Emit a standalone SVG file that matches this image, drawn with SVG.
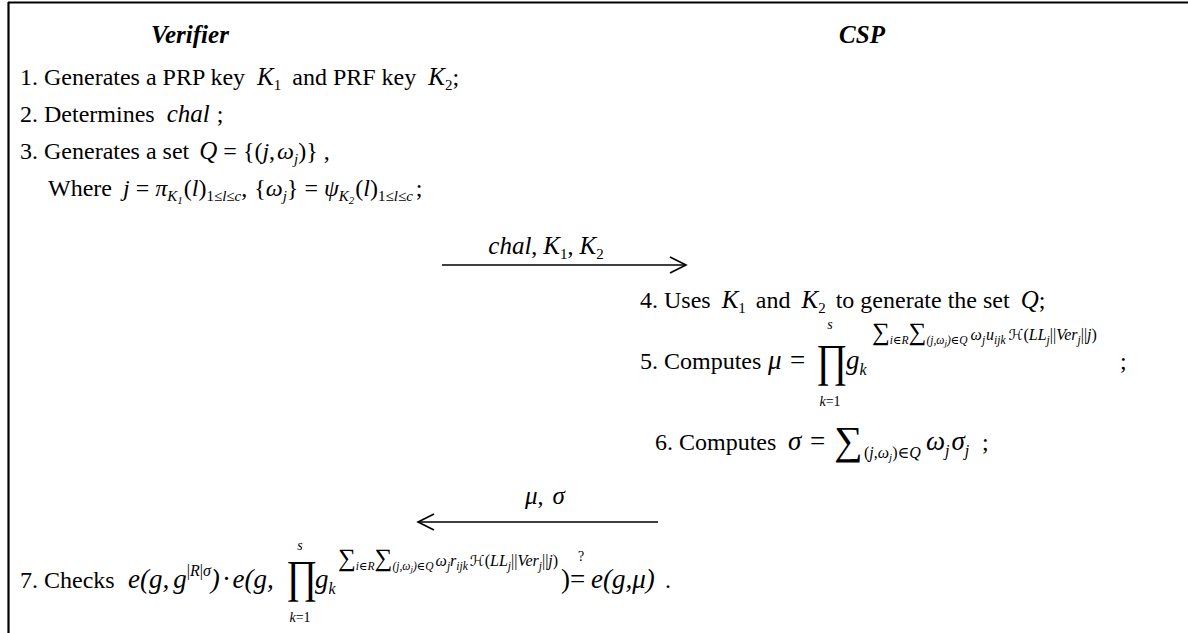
<svg xmlns="http://www.w3.org/2000/svg" width="1188" height="633" viewBox="0 0 1188 633">
<style>
text{font-family:"Liberation Serif","Times New Roman","DejaVu Serif",serif;font-size:24px;fill:#000}
.i{font-style:italic}
.hd{font-weight:bold;font-style:italic;font-size:25px}
.sb{font-size:15px}
.m{font-size:27px;font-style:italic}
.mu{font-size:27px}
.sup{font-size:16px}
.ms{font-size:16px}
.mss{font-size:11px;font-style:italic}
.e1{font-size:16px;font-style:italic}
.eu{font-size:16px;font-style:normal}
.es{font-size:11.5px;font-style:italic}
.ess{font-size:9px;font-style:italic}
.esig{font-size:25px;font-style:normal}
.big{font-size:46px}
.lsig{font-size:40px}
.lim{font-size:14px}
.cal{font-family:"DejaVu Serif","DejaVu Sans",serif;font-size:15px;font-style:italic}
.conn{stroke:#000;stroke-width:1.6;fill:none}
</style>
<defs>
<marker id="ah" markerUnits="userSpaceOnUse" markerWidth="20" markerHeight="20" refX="17" refY="9" orient="auto">
<path d="M1,1 L17,9 L1,17" fill="none" stroke="#000" stroke-width="1.6"/>
</marker>
</defs>
<rect width="1188" height="633" fill="#fff"/>
<g id="frame"><path d="M8,2.5 H1188 M8.5,2 V633" stroke="#000" stroke-width="2.2" fill="none"/></g>

<g id="verifier">
<text class="hd" x="190" y="43" text-anchor="middle">Verifier</text>
<text x="20" y="85">1. Generates a PRP key<tspan class="i" dx="12" font-size="25">K</tspan><tspan class="sb" y="90">1</tspan><tspan y="85" dx="11">and PRF key</tspan><tspan class="i" dx="12" font-size="25">K</tspan><tspan class="sb" y="90">2</tspan><tspan y="85">;</tspan></text>
<text x="20" y="122">2. Determines<tspan class="i" dx="12" font-size="25">chal</tspan><tspan dx="7">;</tspan></text>
<text x="20" y="159">3. Generates a set<tspan class="i" dx="10" font-size="25">Q</tspan><tspan dx="6">=</tspan><tspan dx="6">{(</tspan><tspan class="i">j</tspan>,<tspan class="i" dx="2">ω</tspan><tspan class="sb i" y="164">j</tspan><tspan y="159">)}</tspan><tspan dx="6">,</tspan></text>
<text x="48" y="196">Where<tspan class="i" dx="11">j</tspan><tspan dx="6">=</tspan><tspan class="i" dx="6">π</tspan><tspan class="sb i" y="201">K</tspan><tspan class="mss" y="204">1</tspan><tspan y="196" dx="1">(</tspan><tspan class="i">l</tspan>)<tspan class="sb" y="201">1≤</tspan><tspan class="sb i">l</tspan><tspan class="sb">≤</tspan><tspan class="sb i">c</tspan><tspan y="196">,</tspan><tspan dx="7">{</tspan><tspan class="i">ω</tspan><tspan class="sb i" y="201">j</tspan><tspan y="196">}</tspan><tspan dx="6">=</tspan><tspan class="i" dx="6">ψ</tspan><tspan class="sb i" y="201">K</tspan><tspan class="mss" y="204">2</tspan><tspan y="196" dx="1">(</tspan><tspan class="i">l</tspan>)<tspan class="sb" y="201">1≤</tspan><tspan class="sb i">l</tspan><tspan class="sb">≤</tspan><tspan class="sb i">c</tspan><tspan y="196" dx="3">;</tspan></text>

<text x="20" y="588">7. Checks</text>
<text class="m" x="128" y="588">e<tspan class="mu">(</tspan>g<tspan class="mu">,</tspan><tspan dx="4">g</tspan><tspan class="sup" font-style="normal" y="576">|</tspan><tspan class="sup">R</tspan><tspan class="sup" font-style="normal">|</tspan><tspan class="sup">σ</tspan><tspan class="mu" y="588">)</tspan><tspan class="mu" dx="3">·</tspan><tspan dx="3">e</tspan><tspan class="mu">(</tspan>g<tspan class="mu">,</tspan></text>
<text class="big" transform="translate(286,592) scale(0.82,1)">∏</text>
<text class="lim i" x="300" y="550" text-anchor="middle">s</text>
<text class="lim" x="300" y="622" text-anchor="middle"><tspan class="i">k</tspan>=1</text>
<text class="m" x="315" y="588">g<tspan class="ms" y="594">k</tspan></text>
<text class="e1" x="338" y="566"><tspan class="esig">∑</tspan><tspan class="es" y="570">i∈R</tspan><tspan class="esig" y="566">∑</tspan><tspan class="es" y="570">(j,ω</tspan><tspan class="ess" y="572">j</tspan><tspan class="es" y="570">)∈Q</tspan><tspan y="566" dx="2">ω</tspan><tspan class="es" y="570">j</tspan><tspan y="566">r</tspan><tspan class="es" y="570">ijk</tspan><tspan class="cal" y="566" dx="2">ℋ</tspan><tspan class="eu">(</tspan>LL<tspan class="es" y="570">j</tspan><tspan class="eu" y="566">||</tspan>Ver<tspan class="es" y="570">j</tspan><tspan class="eu" y="566">||</tspan>j<tspan class="eu">)</tspan></text>
<text class="mu" x="561" y="588">)=</text>
<text class="lim" x="581" y="561" text-anchor="middle">?</text>
<text class="m" x="591" y="588">e<tspan class="mu">(</tspan>g<tspan class="mu">,</tspan>μ<tspan class="mu">)</tspan></text>
<text x="665" y="588">.</text>
</g>

<g id="csp">
<text class="hd" x="862" y="43" text-anchor="middle">CSP</text>
<text x="640" y="308">4. Uses<tspan class="i" dx="11" font-size="25">K</tspan><tspan class="sb" y="313">1</tspan><tspan y="308" dx="10">and</tspan><tspan class="i" dx="11" font-size="25">K</tspan><tspan class="sb" y="313">2</tspan><tspan y="308" dx="10">to generate the set</tspan><tspan class="i" dx="11" font-size="25">Q</tspan>;</text>

<text x="640" y="369">5. Computes</text>
<text class="m" x="768" y="369">μ</text>
<text class="mu" x="790" y="369">=</text>
<text class="big" transform="translate(816,376) scale(0.82,1)">∏</text>
<text class="lim i" x="830" y="329" text-anchor="middle">s</text>
<text class="lim" x="830" y="406" text-anchor="middle"><tspan class="i">k</tspan>=1</text>
<text class="m" x="846" y="369">g<tspan class="ms" y="375">k</tspan></text>
<text class="e1" x="872" y="340"><tspan class="esig">∑</tspan><tspan class="es" y="344">i∈R</tspan><tspan class="esig" y="340">∑</tspan><tspan class="es" y="344">(j,ω</tspan><tspan class="ess" y="346">j</tspan><tspan class="es" y="344">)∈Q</tspan><tspan y="340" dx="3">ω</tspan><tspan class="es" y="344">j</tspan><tspan y="340" dx="1">u</tspan><tspan class="es" y="344">ijk</tspan><tspan class="cal" y="340" dx="3">ℋ</tspan><tspan class="eu">(</tspan>LL<tspan class="es" y="344">j</tspan><tspan class="eu" y="340">||</tspan>Ver<tspan class="es" y="344">j</tspan><tspan class="eu" y="340">||</tspan>j<tspan class="eu">)</tspan></text>
<text x="1120" y="369">;</text>

<text x="655" y="450">6. Computes</text>
<text class="m" x="788" y="450">σ</text>
<text class="mu" x="810" y="450">=</text>
<text class="lsig" x="834" y="454">∑</text>
<text class="ms" x="864" y="458">(<tspan class="i">j</tspan>,<tspan class="i">ω</tspan><tspan class="mss" y="461">j</tspan><tspan y="458">)∈</tspan><tspan class="i">Q</tspan></text>
<text class="m" x="926" y="450">ω<tspan class="ms" y="456">j</tspan><tspan y="450" dx="2">σ</tspan><tspan class="ms" y="456">j</tspan></text>
<text x="982" y="450">;</text>
</g>

<g id="connectors">
<line class="conn" x1="442" y1="265" x2="686" y2="265" marker-end="url(#ah)"/>
<line class="conn" x1="658" y1="522" x2="418" y2="522" marker-end="url(#ah)"/>
<text x="546" y="254" text-anchor="middle"><tspan class="i" font-size="25">chal</tspan>, <tspan class="i" font-size="25">K</tspan><tspan class="sb" dy="5">1</tspan><tspan dy="-5">, </tspan><tspan class="i" font-size="25">K</tspan><tspan class="sb" dy="5">2</tspan></text>
<text x="545" y="504" text-anchor="middle"><tspan class="i" font-size="25">μ</tspan>,<tspan class="i" font-size="25" dx="9">σ</tspan></text>
</g>
</svg>
